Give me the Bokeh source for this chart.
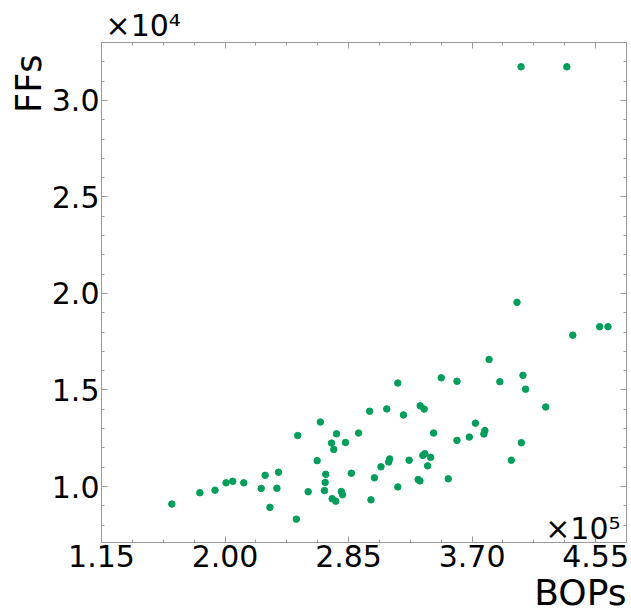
from bokeh.plotting import figure
from bokeh.models import (Range1d, FixedTicker, CustomJSTickFormatter, LinearAxis, Label,
                          Title, ColumnDataSource)
from bokeh.embed import file_html
from bokeh.resources import INLINE

# ---- data (raw units) ----
bops = [163400, 182700, 193100, 200700, 205300, 212900, 224900, 227600, 230900, 235700,
        236800, 249100, 250000, 257200, 263400, 265600, 268400, 268900, 269300, 273300,
        273700, 274800, 276200, 276700, 280000, 280900, 282900, 286900, 291900, 299500,
        300400, 302800, 307300, 311300, 312600, 313300, 318900, 318900, 322800, 326700,
        332900, 334100, 334300, 336100, 337000, 337500, 339400, 341500, 343500, 348800,
        353600, 359600, 359600, 368100, 372300, 378100, 378800, 381700, 389100, 397000,
        400900, 403900, 405000, 406800, 420700, 439300, 457800, 463500, 403700, 435200]
ffs = [9090, 9680, 9810, 10190, 10270, 10190, 9900, 10580, 8920, 9910,
       10740, 8310, 12640, 9730, 11340, 13340, 9790, 10210, 10630, 12250,
       9370, 11920, 9240, 12730, 9740, 9570, 12280, 10690, 12770, 13900,
       9310, 10450, 11020, 14020, 11270, 11430, 15360, 9980, 13710, 11360,
       10360, 10290, 14180, 11610, 14010, 11700, 11070, 11510, 12770, 15630,
       10400, 15450, 12390, 12560, 13280, 12720, 12900, 16580, 15430, 11360,
       19540, 12270, 15760, 15040, 14120, 17840, 18280, 18280, 31740, 31740]

x_ticks = [115000, 200000, 285000, 370000, 455000]
y_ticks = [10000, 15000, 20000, 25000, 30000]
x_minor = [115000 + 21250 * i for i in range(0, 18)]
y_minor = [7000 + 1000 * i for i in range(0, 27)]

FONT = "DejaVu Sans"
AX = "#9a9a9a"

p = figure(width=631, height=614, output_backend="svg", toolbar_location=None,
           x_range=Range1d(115000, 476250), y_range=Range1d(7100, 33000),
           min_border_left=101, min_border_right=5, min_border_top=42, min_border_bottom=72,
           x_axis_type=None, y_axis_type=None)
p.outline_line_color = AX
p.background_fill_color = "white"
p.border_fill_color = "white"

xt = FixedTicker(ticks=x_ticks, minor_ticks=x_minor)
yt = FixedTicker(ticks=y_ticks, minor_ticks=y_minor)

def style(ax, labels=True):
    ax.axis_line_color = AX
    ax.major_tick_line_color = AX
    ax.minor_tick_line_color = AX
    ax.major_tick_in = 6
    ax.major_tick_out = 0
    ax.minor_tick_in = 3
    ax.minor_tick_out = 0
    if labels:
        ax.major_label_text_font = FONT
        ax.major_label_text_font_size = "30px"
        ax.major_label_text_color = "black"
        ax.major_label_standoff = 2
    else:
        ax.major_label_text_font_size = "0px"
        ax.major_label_standoff = 0

xb = LinearAxis(ticker=xt, formatter=CustomJSTickFormatter(code="return (tick/1e5).toFixed(2)"))
style(xb)
p.add_layout(xb, "below")
yl = LinearAxis(ticker=yt, formatter=CustomJSTickFormatter(code="return (tick/1e4).toFixed(1)"))
style(yl)
p.add_layout(yl, "left")
xtop = LinearAxis(ticker=xt, formatter=CustomJSTickFormatter(code="return ''"))
style(xtop, labels=False)
p.add_layout(xtop, "above")
yr = LinearAxis(ticker=yt, formatter=CustomJSTickFormatter(code="return ''"))
style(yr, labels=False)
p.add_layout(yr, "right")

p.xgrid.ticker = xt
p.ygrid.ticker = yt
p.xgrid.grid_line_color = "#efefef"
p.ygrid.grid_line_color = "#efefef"

src = ColumnDataSource(dict(x=bops, y=ffs))
p.scatter("x", "y", source=src, size=6.5, fill_color="#009E5A", line_color="#009E5A")

def title(text, side, align, size, offset=0):
    t = Title(text=text, align=align, text_font=FONT, text_font_size=size,
              text_font_style="normal", text_color="black", standoff=0, offset=offset)
    p.add_layout(t, side)

title("×10⁴", "above", "left", "30px", offset=4)
title("FFs", "left", "right", "35px", offset=12)
title("BOPs", "below", "right", "36px", offset=0)

p.add_layout(Label(x=519, y=14, x_units="screen", y_units="screen", text="×10⁵",
                   text_font=FONT, text_font_size="30px", text_color="black",
                   text_align="right", text_baseline="alphabetic"))

open("out.html", "w").write(file_html(p, INLINE))
